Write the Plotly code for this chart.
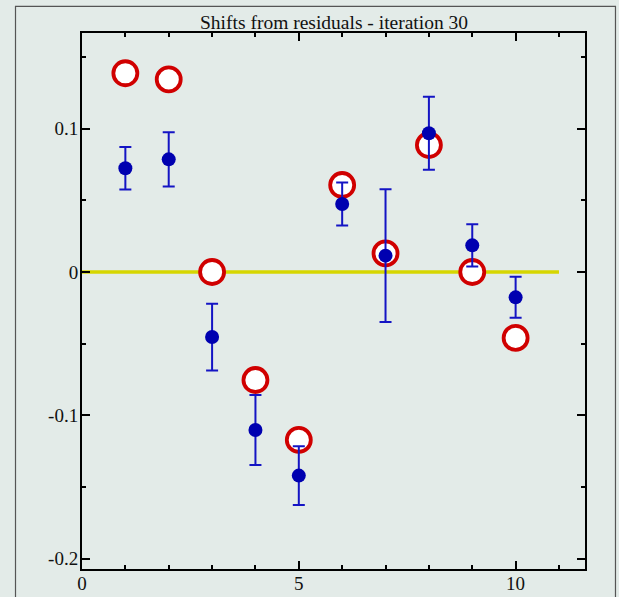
import plotly.graph_objects as go

# Residual-shift data for iteration 30
index = [1, 2, 3, 4, 5, 6, 7, 8, 9, 10]
shift_est = [0.0724, 0.0786, -0.0454, -0.1103, -0.1421, 0.0475, 0.0114, 0.0968, 0.0186, -0.0177]
shift_err = [0.0148, 0.019, 0.0233, 0.0244, 0.0205, 0.015, 0.0463, 0.0255, 0.0148, 0.0143]
shift_true = [0.1387, 0.1344, 0.0, -0.0754, -0.1172, 0.0607, 0.013, 0.0886, 0.0, -0.046]

ref_x = [0, 11]
ref_y = [0, 0]

x_ticks = [0, 5, 10]
x_labels = ["0", "5", "10"]
y_ticks = [-0.2, -0.1, 0, 0.1]
y_labels = ["-0.2", "-0.1", "0", "0.1"]

BG = "#e3ebe8"
SERIF = "Liberation Serif, Times New Roman, serif"

fig = go.Figure()

fig.add_trace(go.Scatter(
    x=ref_x, y=ref_y, mode="lines",
    line=dict(color="#d6d600", width=3.5),
    hoverinfo="skip", showlegend=False,
))

fig.add_trace(go.Scatter(
    x=index, y=shift_true, mode="markers",
    marker=dict(symbol="circle", size=24, color="white",
                line=dict(color="#d00000", width=3.8)),
    showlegend=False,
))

fig.add_trace(go.Scatter(
    x=index, y=shift_est, mode="markers",
    marker=dict(symbol="circle", size=14, color="#0000b0"),
    error_y=dict(type="data", array=shift_err, visible=True,
                 color="#1414c4", thickness=2, width=6),
    showlegend=False,
))

axis_common = dict(
    showline=True, linecolor="black", linewidth=2, mirror="ticks",
    ticks="inside", ticklen=8, tickwidth=2, tickcolor="black",
    showgrid=False, zeroline=False, automargin=False,
    tickfont=dict(family=SERIF, size=19, color="#111111"),
)

fig.update_xaxes(
    range=[0, 11.6], tickmode="array", tickvals=x_ticks, ticktext=x_labels,
    ticklabelstandoff=-4,
    minor=dict(ticks="inside", ticklen=4, tickwidth=2, tickcolor="black", dtick=1, tick0=0, showgrid=False),
    **axis_common,
)
fig.update_yaxes(
    range=[-0.2073, 0.1668], tickmode="array", tickvals=y_ticks, ticktext=y_labels,
    ticklabelstandoff=-2,
    minor=dict(ticks="inside", ticklen=4, tickwidth=2, tickcolor="black", dtick=0.05, tick0=0, showgrid=False),
    **axis_common,
)

fig.update_layout(
    width=619, height=597,
    margin=dict(l=82, r=34, t=33, b=28),
    paper_bgcolor=BG, plot_bgcolor=BG,
    annotations=[dict(
        text="Shifts from residuals - iteration 30",
        xref="paper", yref="paper", x=0.5, y=1,
        xanchor="center", yanchor="bottom", yshift=-2, showarrow=False,
        font=dict(family=SERIF, size=19.5, color="#111111"),
    )],
    shapes=[dict(
        type="rect", xref="paper", yref="paper",
        x0=-0.1322, x1=1.0606, y0=-0.2, y1=1.0495,
        line=dict(color="#555555", width=1.2), layer="below",
    )],
)

fig.write_html("out.html")
